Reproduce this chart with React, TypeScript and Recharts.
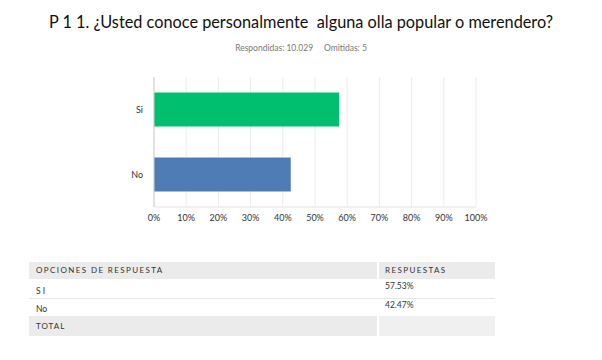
import { Bar, BarChart, CartesianGrid, Cell, XAxis, YAxis } from "recharts";

const categories = ["Si", "No"];
const tableLabels = ["S I", "No"];
const percents = [57.53, 42.47];
const barColors = ["#00bf6f", "#507cb6"];
const xTicks = [0, 10, 20, 30, 40, 50, 60, 70, 80, 90, 100];

const title = "P 1 1. ¿Usted conoce personalmente  alguna olla popular o merendero?";
const subtitle = "Respondidas: 10.029     Omitidas: 5";

const font = "Lato, 'Open Sans', sans-serif";

const data = categories.map((name, i) => ({ name, value: percents[i] }));

function AnswerTable() {
  const cell = { fontSize: 8, color: "#333", padding: 0, boxSizing: "border-box" as const };
  return (
    <div style={{ position: "absolute", left: 29, top: 262, width: 466, fontFamily: font }}>
      <div style={{ display: "flex", height: 17 }}>
        <div style={{ ...cell, width: 348, background: "#ebebeb", letterSpacing: 1.4, paddingLeft: 7, lineHeight: "17px" }}>
          OPCIONES DE RESPUESTA
        </div>
        <div style={{ width: 2 }} />
        <div style={{ ...cell, flex: 1, background: "#ebebeb", letterSpacing: 1.4, paddingLeft: 6, lineHeight: "17px" }}>
          RESPUESTAS
        </div>
      </div>
      {tableLabels.map((label, i) => (
        <div
          key={label}
          style={{
            display: "flex",
            height: i === 0 ? 19 : 17,
            borderBottom: i === 0 ? "1px solid #e6e6e6" : "none",
          }}
        >
          <div style={{ ...cell, width: 348, paddingLeft: 7, paddingTop: i === 0 ? 7 : 5, fontSize: 8.5 }}>{label}</div>
          <div style={{ width: 2 }} />
          <div style={{ ...cell, flex: 1, paddingLeft: 6, paddingTop: i === 0 ? 2 : 1, fontSize: 8.5 }}>
            {percents[i].toFixed(2)}%
          </div>
        </div>
      ))}
      <div style={{ display: "flex", height: 20 }}>
        <div style={{ ...cell, width: 348, background: "#ebebeb", letterSpacing: 1, paddingLeft: 7, lineHeight: "20px" }}>
          TOTAL
        </div>
        <div style={{ width: 2 }} />
        <div style={{ flex: 1, background: "#f0f0f0" }} />
      </div>
    </div>
  );
}

export default function App() {
  return (
    <div style={{ position: "absolute", left: 0, top: 0, width: 602, height: 360, background: "#fff", fontFamily: font }}>
      <div style={{ position: "absolute", top: 12, width: 602, textAlign: "center", fontSize: 16.3, color: "#111", whiteSpace: "pre" }}>
        {title}
      </div>
      <div style={{ position: "absolute", top: 43, width: 602, textAlign: "center", fontSize: 8.5, color: "#777", whiteSpace: "pre" }}>
        {subtitle}
      </div>
      <div style={{ position: "absolute", left: 100, top: 70 }}>
        <BarChart
          width={400}
          height={160}
          data={data}
          layout="vertical"
          barCategoryGap="24%"
          margin={{ top: 7, right: 24, left: 0, bottom: 0 }}
        >
          <CartesianGrid horizontal={false} stroke="#ececec" />
          <XAxis
            type="number"
            domain={[0, 100]}
            ticks={xTicks}
            tickFormatter={(v) => `${v}%`}
            tickLine={false}
            axisLine={{ stroke: "#e3e3e3" }}
            tick={{ fontSize: 9, fill: "#333" }}
            height={23}
            interval={0}
          />
          <YAxis
            type="category"
            dataKey="name"
            width={54}
            tickLine={false}
            tickMargin={5}
            axisLine={{ stroke: "#cfcfcf" }}
            tick={{ fontSize: 9, fill: "#333" }}
          />
          <Bar dataKey="value" isAnimationActive={false}>
            {data.map((d, i) => (
              <Cell key={d.name} fill={barColors[i]} />
            ))}
          </Bar>
        </BarChart>
      </div>
      <AnswerTable />
    </div>
  );
}
